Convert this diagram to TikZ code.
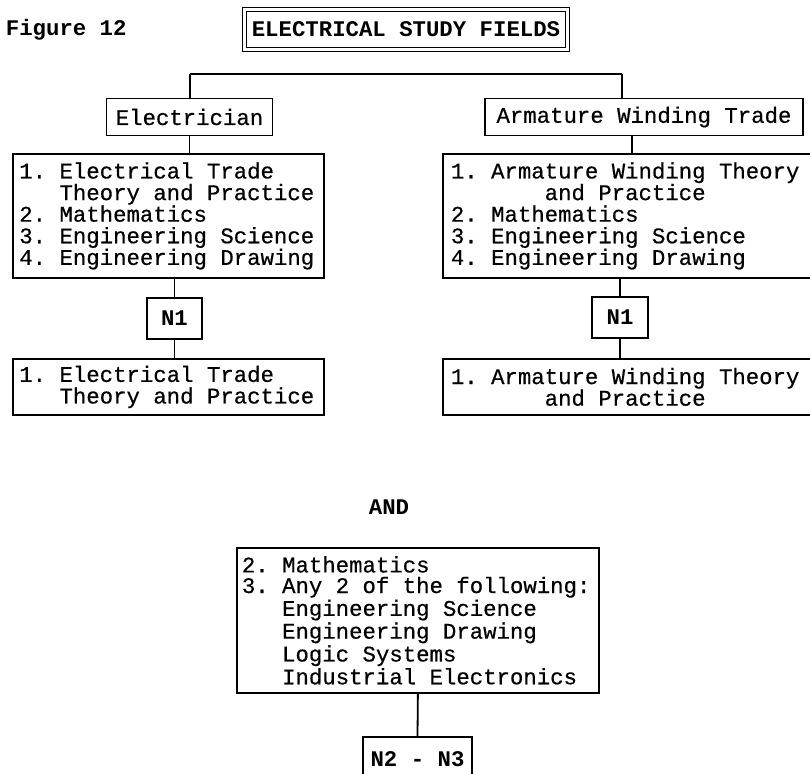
\documentclass[tikz,border=0pt]{standalone}
\usepackage{fontspec}
\setmonofont{Liberation Mono}[UprightFeatures={FakeBold=0.5}]
\usetikzlibrary{calc}
\newcommand{\typefont}{\ttfamily\fontsize{11.17}{10.8}\selectfont\frenchspacing\spaceskip=0.6em\relax}

\begin{document}
\begin{tikzpicture}[
  x=0.5pt, y=-0.5pt,
  line width=0.9pt,
  headbox/.style={draw, double, double distance=1.4pt, line width=0.6pt, minimum height=20pt, inner sep=0pt, font=\typefont\bfseries},
  tradebox/.style={draw, minimum height=18.5pt, inner sep=0pt, font=\typefont},
  listbox/.style={draw, align=flush left, inner xsep=4pt, inner ysep=0pt, font=\typefont},
  levelbox/.style={draw, minimum height=20.5pt, inner sep=0pt, font=\typefont\bfseries},
  plain/.style={inner sep=0pt, font=\typefont\bfseries},
  conn/.style={line width=0.9pt}
]
  \useasboundingbox (0,0) rectangle (810,774);
  \clip (0,0) rectangle (810,774);

  \node[plain, anchor=west] (fig) at (5,30) {Figure 12};
  \node[headbox, minimum width=161.5pt] (head) at (406,29.5) {ELECTRICAL STUDY FIELDS};

  \node[tradebox, minimum width=83pt] (elec) at (189.5,117) {Electrician};
  \node[tradebox, minimum width=159pt] (arm) at (644,117) {Armature Winding Trade};

  \node[listbox, anchor=north west, inner xsep=3.2pt, text width=149pt, minimum height=62pt] (subjL) at (12,153) {%
    1. Electrical Trade\\
    \hphantom{000}Theory and Practice\\
    2. Mathematics\\
    3. Engineering Science\\
    4. Engineering Drawing};
  \node[listbox, anchor=north west, text width=177pt, minimum height=62pt] (subjR) at (442,153) {%
    1. Armature Winding Theory\\
    \hphantom{0000000}and Practice\\
    2. Mathematics\\
    3. Engineering Science\\
    4. Engineering Drawing};

  \node[levelbox, minimum width=27.5pt] (n1L) at (174.5,318.5) {N1};
  \node[levelbox, minimum width=28pt] (n1R) at (620,317.5) {N1};

  \node[listbox, anchor=north west, inner xsep=3.2pt, text width=149pt, minimum height=28pt] (lastL) at (12,358) {%
    1. Electrical Trade\\
    \hphantom{000}Theory and Practice};
  \node[listbox, anchor=north west, text width=177pt, minimum height=28pt] (lastR) at (442,358) {%
    1. Armature Winding Theory\\
    \hphantom{0000000}and Practice};

  \node[plain] (and) at (389,507) {AND};

  \node[listbox, anchor=north west, inner xsep=2.5pt, text width=176pt, minimum height=72.5pt,
        font=\typefont\fontsize{11.17}{10.3}\selectfont] (options) at (236,547) {%
    2. Mathematics\\
    3. Any 2 of the following:\\
    \hphantom{000}Engineering Science\\
    \hphantom{000}Engineering Drawing\\
    \hphantom{000}Logic Systems\\
    \hphantom{000}Industrial Electronics};

  \node[levelbox, minimum width=54.5pt, minimum height=22pt] (n23) at (417.5,759) {N2 - N3};

  % branches from the title line
  \coordinate (jl) at (190,74);
  \coordinate (jr) at (622,74);
  \coordinate (ar) at (632,0);
  \draw[conn] (jl) -- (jr);
  \draw[conn] (jl) -- (jl |- elec.north);
  \draw[conn] (jr) -- (jr |- arm.north);

  % left column
  \draw[conn] (elec.south) -- (elec.south |- subjL.north);
  \draw[conn] (n1L.north |- subjL.south) -- (n1L.north);
  \draw[conn] (n1L.south) -- (n1L.south |- lastL.north);

  % right column
  \draw[conn] (ar |- arm.south) -- (ar |- subjR.north);
  \draw[conn] (n1R.north |- subjR.south) -- (n1R.north);
  \draw[conn] (n1R.south) -- (n1R.south |- lastR.north);

  \draw[conn] (options.south) -- (n23.north);
\end{tikzpicture}
\end{document}
